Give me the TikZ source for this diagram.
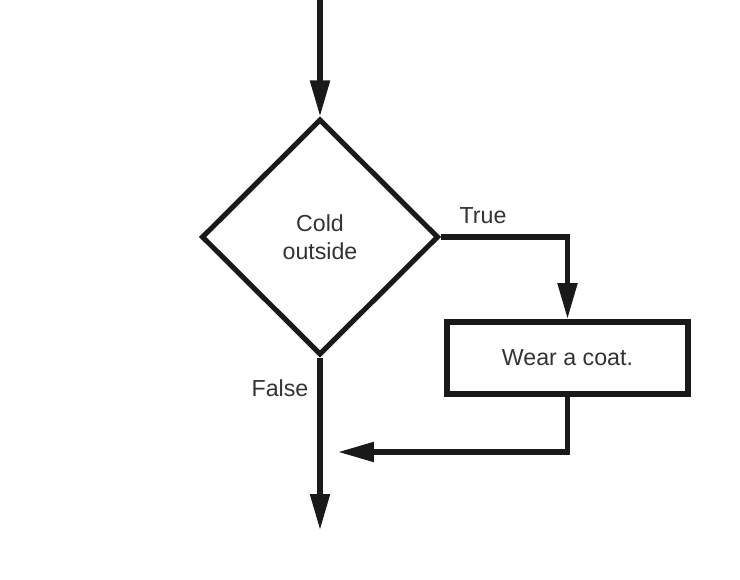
\documentclass[tikz,border=0pt]{standalone}
\usepackage{fontspec}
\setmainfont{Liberation Sans}
\usepackage{tikz}
\usetikzlibrary{arrows.meta,positioning,shapes.geometric}
\tikzset{
  dec/.style   = {diamond, draw=black!90, line width=2.9pt, inner sep=0pt,
                  minimum width=4.74cm, minimum height=4.72cm, align=center,
                  font=\fontsize{13.2}{16}\selectfont, text=black!80},
  act/.style   = {rectangle, draw=black!90, line width=3.4pt, inner sep=0pt,
                  minimum width=4.82cm, minimum height=1.44cm, align=center,
                  font=\fontsize{13.2}{16}\selectfont, text=black!80},
  lbl/.style   = {font=\fontsize{13.2}{16}\selectfont, text=black!80, inner sep=0pt},
  ar/.style    = {-{Triangle[length=0.72cm,width=0.38cm]}, line width=3pt,
                  draw=black!90}
}
\begin{document}
\begin{tikzpicture}[x=0.02cm, y=-0.02cm]
    \useasboundingbox (0,0) rectangle (740,580);

    % ---- Decision ----
    \coordinate (start) at (320,0);
    \node[dec] (cold) at (320,237) {Cold\\ outside};

    % ---- Action ----
    \node[act] (coat) at (567.5,358) {Wear a coat.};

    % ---- Ends ----
    \coordinate (merge) at (338,452);
    \coordinate (stop) at (320,530);

    % ---- Labels ----
    \node[lbl] (ltrue) at (483,216) {True};
    \node[lbl] (lfalse) at (280,388) {False};

    % ---- Arrows ----
    \draw[ar] (start) -- (cold.north);
    \draw[ar] (cold.east) -| (coat.north);
    \draw[ar] (coat.south) |- (merge);
    \draw[ar] (cold.south) -- (stop);
\end{tikzpicture}
\end{document}
